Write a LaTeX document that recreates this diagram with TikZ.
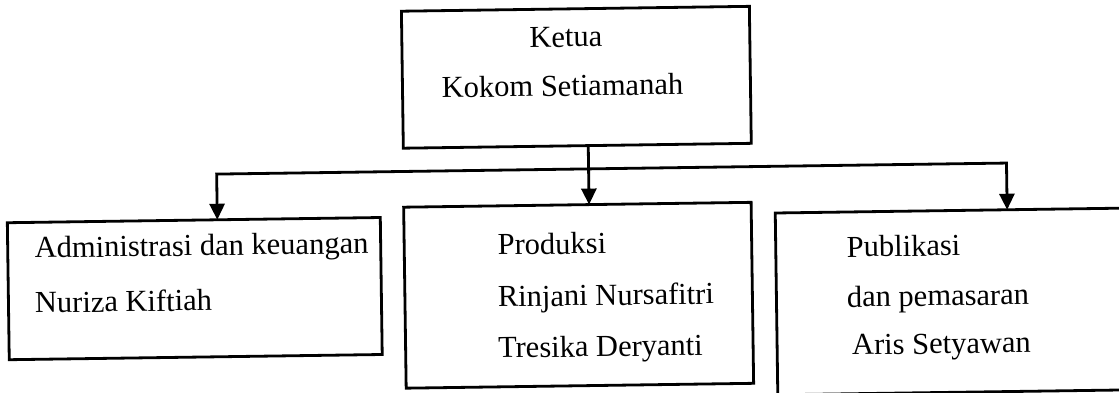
\documentclass[tikz,border=0pt]{standalone}
\usepackage{fontspec}
\setmainfont{Liberation Serif}
\usetikzlibrary{arrows.meta}
\begin{document}
\begin{tikzpicture}[x=1pt,y=-1pt,
  box/.style={draw, line width=2.8pt, rectangle, inner sep=0pt, outer sep=0pt, anchor=north west},
  lbl/.style={inner sep=0pt, outer sep=0pt, font=\fontsize{30.5}{36}\selectfont},
  conn/.style={line width=2.8pt},
  arr/.style={conn, -{Triangle[width=15pt,length=16pt]}}]
\fill[white] (0,0) rectangle (1119,392);
\useasboundingbox (0,0) rectangle (1119,392);
\clip (0,0) rectangle (1119,392);
\begin{scope}[rotate around={0.8:(560,196)}, transform shape]
  % boxes
  \node[box, minimum width=348pt, minimum height=137pt] (ketua) at (404,9) {};
  \node[box, minimum width=373pt, minimum height=137pt] (admin) at (7,215) {};
  \node[box, minimum width=347.5pt, minimum height=181pt] (prod) at (403.5,205) {};
  \node[box, minimum width=380pt, minimum height=181.8pt] (publ) at (775,216) {};
  % texts
  \node[lbl, anchor=base] (t1) at (568,47) {Ketua};
  \node[lbl, anchor=base] (t2) at (564,96) {Kokom Setiamanah};
  \node[lbl, anchor=base west] (a1) at (34,250.6) {Administrasi dan keuangan};
  \node[lbl, anchor=base west] (a2) at (33.5,305.6) {Nuriza Kiftiah};
  \node[lbl, anchor=base west] (p1) at (497,254) {Produksi};
  \node[lbl, anchor=base west] (p2) at (496.5,306) {Rinjani Nursafitri};
  \node[lbl, anchor=base west] (p3) at (496,357) {Tresika Deryanti};
  \node[lbl, anchor=base west] (q1) at (846,261) {Publikasi};
  \node[lbl, anchor=base west] (q2) at (845.5,311) {dan pemasaran};
  \node[lbl, anchor=base west] (q3) at (850,359) {Aris Setyawan};
  % connectors
  \coordinate (jm) at (589,169.3);
  \coordinate (jl) at (217,169.3);
  \coordinate (jr) at (1007,169.3);
  \draw[arr] (jm |- ketua.south) -- (jm |- prod.north);
  \draw[arr] (jm) -- (jl) -- (jl |- admin.north);
  \draw[arr] (jm) -- (jr) -- (jr |- publ.north);
\end{scope}
\end{tikzpicture}
\end{document}
